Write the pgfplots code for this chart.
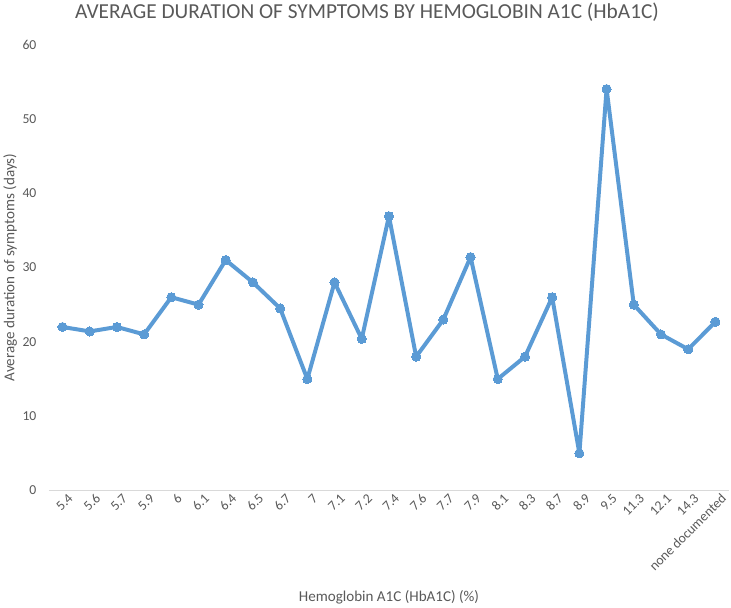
\documentclass[border=0pt]{standalone}
\usepackage{fontspec}
\setmainfont{Carlito}
\usepackage{pgfplots}
\pgfplotsset{compat=1.18}
\definecolor{txt}{HTML}{595959}
\definecolor{ln}{HTML}{5B9BD5}
\definecolor{basec}{HTML}{D9D9D9}
\pgfplotstableread{
x y
0 22
1 21.4
2 22
3 21
4 26
5 25
6 31
7 28
8 24.5
9 15
10 28
11 20.4
12 36.9
13 18
14 23
15 31.4
16 15
17 18
18 26
19 5
20 54
21 25
22 21
23 19
24 22.7
}\datatable
\begin{document}
\begin{tikzpicture}
\begin{axis}[
  at={(0,0)}, anchor=south west,
  scale only axis, width=683bp, height=448bp,
  xmin=-0.5, xmax=24.5, ymin=0, ymax=60,
  axis x line=bottom, axis y line=left,
  axis line style={-},
  x axis line style={basec, line width=1bp},
  y axis line style={draw=none},
  major tick length=0pt,
  xtick={0,...,24},
  xticklabels={5.4,5.6,5.7,5.9,6,6.1,6.4,6.5,6.7,7,7.1,7.2,7.4,7.6,7.7,7.9,8.1,8.3,8.7,8.9,9.5,11.3,12.1,14.3,none documented},
  ytick={0,10,...,60},
  /pgf/number format/assume math mode=true,
  xticklabel style={rotate=45, anchor=north east, font=\fontsize{13.8}{15}\selectfont, text=txt, inner sep=1bp, yshift=-4bp, xshift=3bp},
  yticklabel style={anchor=east, font=\fontsize{13.8}{15}\selectfont, text=txt, xshift=-9bp},
  title={AVERAGE DURATION OF SYMPTOMS BY HEMOGLOBIN A1C (HbA1C)},
  title style={at={(axis description cs:0.4678,1)}, anchor=center, yshift=26bp, font=\fontsize{21.5}{25}\selectfont, text=txt},
  xlabel={Hemoglobin A1C (HbA1C) (\%)},
  xlabel style={at={(axis description cs:0.5,0)}, anchor=center, yshift=-107bp, font=\fontsize{15.2}{17}\selectfont, text=txt},
  ylabel={Average duration of symptoms (days)},
  ylabel style={at={(axis description cs:-0.057,0.5)}, anchor=center, font=\fontsize{15.2}{17}\selectfont, text=txt},
  clip=false,
]
\addplot[ln, line width=4bp, line join=round, mark=*, mark size=4.6bp, mark options={fill=ln, draw=ln, line width=0pt}] table[x=x,y=y] {\datatable};
\end{axis}
\useasboundingbox (-46bp,-116bp) rectangle (685bp,486bp);
\end{tikzpicture}
\end{document}
